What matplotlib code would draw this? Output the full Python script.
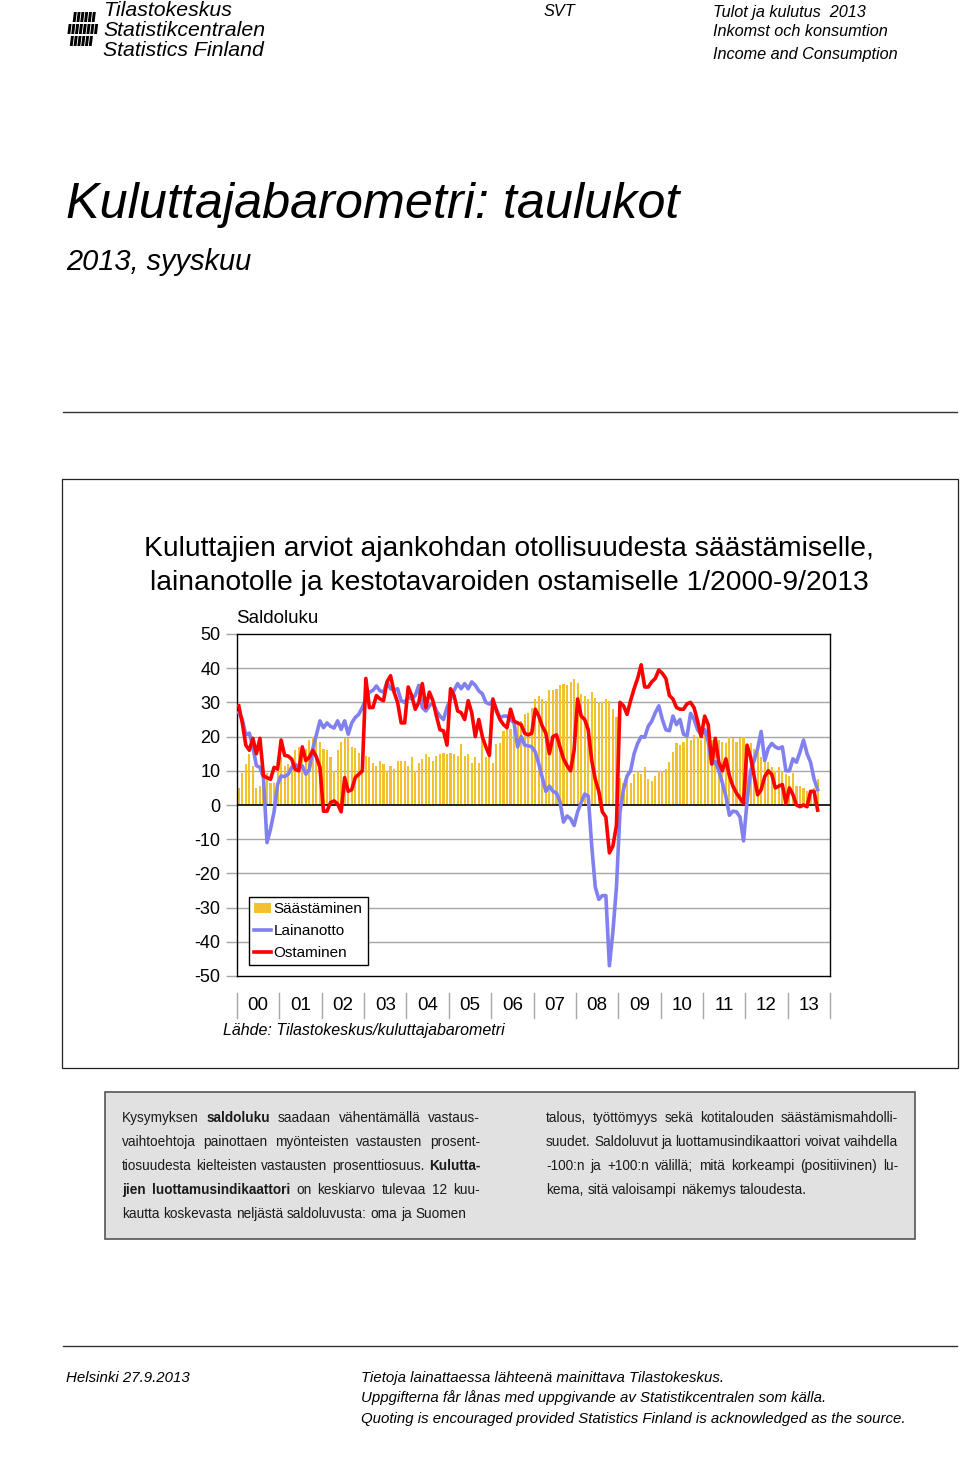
import matplotlib
matplotlib.use("Agg")
import matplotlib.pyplot as plt
from matplotlib import font_manager
from matplotlib.patches import Rectangle, Patch, Polygon
from matplotlib.lines import Line2D

# Saldoluvut 1/2000-9/2013, kuukausittain
ostaminen = [
    29, 24, 17.5, 16, 19.5, 15, 19.5, 8.5, 8, 7.5,
    11, 10.5, 19, 14.5, 14.3, 13.4, 10.4, 10, 17, 13,
    14, 16, 14, 11, -1.8, -1.8, 0.7, 1.2, 0.3, -2,
    8, 4, 4.5, 8, 9, 10, 37, 28.5, 28.5, 32,
    31, 30.5, 36, 37.8, 33, 30, 24, 24, 34.5, 32,
    28, 30, 35.5, 28.5, 33, 30.5, 26, 22, 21.7, 17.5,
    34, 32, 27.5, 27, 25, 30.5, 27, 20, 25, 20,
    17, 14.5, 31, 27.5, 25, 23.5, 22.6, 28, 24.5, 24,
    23.5, 21, 20.5, 21, 28, 26, 23, 21, 15, 20,
    20.5, 17, 13.5, 11.5, 10, 16, 31, 26, 25, 22,
    13, 7.5, 4, -2, -3.5, -14, -12, -6, 30, 29,
    26.5, 30.5, 34, 37, 41, 34.5, 34.5, 36, 37, 39.5,
    38.5, 37, 32, 31, 28.5, 28, 28, 29.6, 30, 28.4,
    24.5, 20, 26, 23.5, 12, 19.5, 12.5, 10, 13.5, 8.5,
    5.5, 3.5, 2, 0.5, 17.5, 14, 8.5, 3, 4.5, 8.3,
    10, 9, 5, 5.5, 6, 0.5, 5, 3, 0, -0.5,
    0, -0.5, 4, 4, -1.5,
]
lainanotto = [
    27, 25, 20.5, 21, 17, 11.5, 11, 8, -11, -7,
    -2, 6, 8.5, 8.3, 9, 11, 11.9, 11, 11.4, 9,
    10.4, 16.5, 20.5, 24.6, 22.6, 24, 23, 22.5, 24.6, 22.1,
    24.6, 20.7, 24, 25.6, 26.5, 28.5, 31, 33, 33.5, 34.8,
    33.4, 33, 35.8, 34, 33.5, 34, 30.5, 30, 31.5, 31,
    32, 35, 28.5, 27.5, 29, 30, 27.5, 26, 25, 28.5,
    31, 33.5, 35.5, 34, 35.5, 34, 36, 35, 33.4, 32.5,
    30, 29.5, 30.5, 28, 25.5, 26, 26, 25, 24, 17,
    20, 17.5, 17.3, 17, 15.5, 12, 8, 4, 5.5, 4,
    3.5, 1, -5, -3.2, -4, -6, -2, 0.7, 3.2, 2.6,
    -12, -24, -27.6, -26.5, -26.5, -47, -37, -24, -2, 4.6,
    8.5, 10, 15, 18, 20, 19.8, 23, 24.5, 27, 29,
    25, 22, 21.7, 26, 23.5, 25, 20.7, 20.2, 26.8, 25,
    22, 20.5, 22, 18.5, 12, 12.7, 10, 6.5, 2.6, -3,
    -1.8, -2, -3.5, -10.5, 1, 10, 13, 16.5, 21.5, 13,
    16.5, 18, 17, 16.5, 17, 10, 10, 13.5, 12.5, 15.5,
    19, 15, 12.5, 7.5, 4.5,
]
saastaminen = [
    5, 9.5, 12, 15, 11.5, 5, 5.5, 8, 9.5, 6.5,
    6.5, 11.5, 14, 11.5, 12, 13.5, 16, 17, 15.5, 16.5,
    19, 20, 20, 18.5, 16.5, 16, 14, 10, 16, 18.5,
    19.5, 19.5, 17, 16.8, 15.3, 12.9, 14.3, 13.9, 12.4, 11.4,
    12.9, 11.9, 10, 11.4, 10.4, 12.9, 12.9, 12.9, 11.4, 13.9,
    10, 12.4, 13.4, 14.8, 13.9, 12.9, 14.3, 14.8, 15.3, 14.8,
    15.3, 14.8, 14.3, 17.8, 14.3, 14.8, 12.4, 13.9, 12.4, 19.2,
    13.9, 14.3, 12.4, 17.8, 18.2, 21.7, 22.1, 22.1, 24.1, 24.6,
    24.6, 26.5, 27, 28.5, 31, 32, 31, 30.5, 33.5, 33.5,
    34, 35, 35.3, 35, 36, 36.8, 35.8, 32.4, 32, 31,
    32.9, 31.4, 30, 30, 31, 30.4, 28, 25.6, 8, 6.5,
    8.5, 6.5, 9, 10, 9, 11, 7.5, 7, 8.5, 10,
    10, 10.5, 12.5, 15.5, 18, 17.5, 18.5, 19.5, 19, 20.5,
    20, 19, 20.5, 20.5, 19, 18.5, 19, 18.5, 18, 20,
    19.5, 18.5, 19.5, 20, 17.5, 18, 16.5, 15.5, 14, 14.5,
    12.5, 11, 10, 11, 10, 9, 8.5, 9.5, 5.5, 5.5,
    5, 4, 4, 5, 7.5,
]
vuodet = ['00', '01', '02', '03', '04', '05', '06', '07',
          '08', '09', '10', '11', '12', '13']
sarjat = ['Säästäminen', 'Lainanotto', 'Ostaminen']

YELLOW = '#F2C12E'
BLUE = '#8080F0'
RED = '#FF0000'

installed = {f.name for f in font_manager.fontManager.ttflist}
HAVE_NARROW = 'Liberation Sans Narrow' in installed
NARROW = 'Liberation Sans Narrow' if HAVE_NARROW else 'Liberation Sans'
SANS = 'Liberation Sans'
plt.rcParams['font.family'] = [SANS, 'DejaVu Sans']
plt.rcParams['axes.unicode_minus'] = False
# narrow font missing -> shrink italic header texts to keep widths
K = 1.0 if HAVE_NARROW else 0.9

W, H = 960, 1475
fig = plt.figure(figsize=(W / 100, H / 100), dpi=100)
renderer = fig.canvas.get_renderer()


def fx(px):
    return px / W


def fy(py):
    return 1 - py / H


def ftext(x, y, s, **kw):
    kw.setdefault('va', 'center')
    return fig.text(fx(x), fy(y), s, **kw)


def hline(y, x0, x1, color='#333333', lw=1.0):
    fig.add_artist(Line2D([fx(x0), fx(x1)], [fy(y), fy(y)], transform=fig.transFigure,
                          color=color, lw=lw))


# --- header ---
# logo: slanted bars cut into three rows
rows = [(12, 22, range(1, 7)), (24, 34, range(0, 8)), (36, 46, range(1, 7))]
for top, bot, cols in rows:
    for c in cols:
        x0 = 66 + c * 3.8
        sl = (46 - top) * 0.12
        sb = (46 - bot) * 0.12
        pts = [(x0 + sb, bot), (x0 + sb + 2.9, bot), (x0 + sl + 2.9, top), (x0 + sl, top)]
        fig.add_artist(Polygon([(fx(a), fy(b)) for a, b in pts], closed=True,
                               transform=fig.transFigure, color='black', lw=0))

LOGO = 17 * (1.0 if HAVE_NARROW else 0.9)
ftext(103, 11, 'Tilastokeskus', family=NARROW, style='italic', fontsize=LOGO)
ftext(103, 31, 'Statistikcentralen', family=NARROW, style='italic', fontsize=LOGO)
ftext(103, 51, 'Statistics Finland', family=NARROW, style='italic', fontsize=LOGO)

ftext(544, 12, 'SVT', family=NARROW, style='italic', fontsize=13 * K)
ftext(713, 12, 'Tulot ja kulutus  2013', family=NARROW, style='italic', fontsize=13 * K)
ftext(713, 32, 'Inkomst och konsumtion', family=NARROW, style='italic', fontsize=13 * K)
ftext(713, 54, 'Income and Consumption', family=NARROW, style='italic', fontsize=13 * K)

ftext(66, 205, 'Kuluttajabarometri: taulukot', family=NARROW, style='italic',
      fontsize=39 * (1.0 if HAVE_NARROW else 0.93))
ftext(66, 262, '2013, syyskuu', family=NARROW, style='italic', fontsize=23 * (1.0 if HAVE_NARROW else 0.91))

hline(412, 63, 957)

# --- chart frame ---
fig.add_artist(Rectangle((fx(62), fy(1068)), fx(958) - fx(62), (1068 - 479) / H,
                         transform=fig.transFigure, fill=False, ec='#222222', lw=0.9))

ftext(509, 549, 'Kuluttajien arviot ajankohdan otollisuudesta säästämiselle,',
      ha='center', fontsize=20.3)
ftext(509, 583, 'lainanotolle ja kestotavaroiden ostamiselle 1/2000-9/2013',
      ha='center', fontsize=20.3)
ftext(236, 618, 'Saldoluku', fontsize=13.5)

ax = fig.add_axes([fx(237), fy(976), fx(830) - fx(237), (976 - 634) / H])
x = list(range(len(saastaminen)))
ax.bar(x, saastaminen, width=0.6, color=YELLOW, zorder=2)
ax.plot(x, lainanotto, color=BLUE, lw=2.6, zorder=3, solid_joinstyle='round')
ax.plot(x, ostaminen, color=RED, lw=2.6, zorder=4, solid_joinstyle='round')

for v in range(-40, 50, 10):
    if v != 0:
        ax.axhline(v, color='#A6A6A6', lw=1.0, zorder=1)
ax.axhline(0, color='black', lw=1.2, zorder=2.5)

ax.set_xlim(-0.5, 167.5)
ax.set_ylim(-50, 50)
ax.set_yticks(range(-50, 51, 10))
ax.set_xticks([])
ax.tick_params(axis='y', direction='out', length=8, width=1, color='#A6A6A6',
               labelsize=13, pad=4)
for s in ax.spines.values():
    s.set_color('black')
    s.set_linewidth(1.0)

# year labels with separators below the plot
xt = ax.get_xaxis_transform()
for k, lab in enumerate(vuodet):
    ax.text(k * 12 + 5.5, (976 - 1005) / 342, lab, transform=xt, ha='center', va='center',
            fontsize=13.5, clip_on=False)
for k in range(len(vuodet) + 1):
    ax.plot([k * 12 - 0.5] * 2, [(976 - 993) / 342, (976 - 1018) / 342], transform=xt,
            color='#A6A6A6', lw=1.0, clip_on=False)

handles = [Patch(facecolor=YELLOW, edgecolor='none'),
           Line2D([], [], color=BLUE, lw=2.6),
           Line2D([], [], color=RED, lw=2.6)]
leg = ax.legend(handles, sarjat, loc='upper left', bbox_to_anchor=(fx(249), fy(897)),
                bbox_transform=fig.transFigure, frameon=True, fancybox=False,
                edgecolor='black', framealpha=1, fontsize=11, handlelength=1.1,
                handleheight=0.55, handletextpad=0.15, labelspacing=0.5,
                borderpad=0.35, borderaxespad=0)
leg.get_frame().set_linewidth(1.0)

ftext(223, 1030, 'Lähde: Tilastokeskus/kuluttajabarometri', style='italic', fontsize=11.5)

# --- explanation box ---
fig.add_artist(Rectangle((fx(105), fy(1239)), fx(915) - fx(105), (1239 - 1092) / H,
                         transform=fig.transFigure, fc='#E1E1E1', ec='#555555', lw=1.2))

left_lines = [
    'Kysymyksen **saldoluku** saadaan vähentämällä vastaus-',
    'vaihtoehtoja painottaen myönteisten vastausten prosent-',
    'tiosuudesta kielteisten vastausten prosenttiosuus. **Kulutta-**',
    '**jien** **luottamusindikaattori** on keskiarvo tulevaa 12 kuu-',
    'kautta koskevasta neljästä saldoluvusta: oma ja Suomen',
]
right_lines = [
    'talous, työttömyys sekä kotitalouden säästämismahdolli-',
    'suudet. Saldoluvut ja luottamusindikaattori voivat vaihdella',
    '-100:n ja +100:n välillä; mitä korkeampi (positiivinen) lu-',
    'kema, sitä valoisampi näkemys taloudesta.',
]


def word_widths(line, size):
    out = []
    for word in line.split():
        bold = word.startswith('**')
        t = fig.text(0, 0, word.strip('*'), family=NARROW, fontsize=size,
                     weight='bold' if bold else 'normal')
        out.append(t.get_window_extent(renderer).width)
        t.remove()
    return out


# biggest body size where every justified line still keeps a small gap
body_size = 11.0
while body_size > 8:
    ok = True
    for lines, width in ((left_lines, 358), (right_lines, 352)):
        for line in lines[:-1]:
            ws = word_widths(line, body_size)
            if sum(ws) + 3.2 * (len(ws) - 1) > width:
                ok = False
    if ok:
        break
    body_size -= 0.1


def put_line(x0, x1, y, line, justify):
    arts, widths = [], []
    for word in line.split():
        bold = word.startswith('**')
        t = ftext(0, y, word.strip('*'), family=NARROW, fontsize=body_size,
                  weight='bold' if bold else 'normal', color='#1a1a1a')
        arts.append(t)
        widths.append(t.get_window_extent(renderer).width)
    if justify and len(arts) > 1:
        gap = (x1 - x0 - sum(widths)) / (len(arts) - 1)
    else:
        gap = body_size * 100 / 72 * 0.28
    pos = x0
    for t, w in zip(arts, widths):
        t.set_x(fx(pos))
        pos += w + gap


for i, line in enumerate(left_lines):
    put_line(122, 480, 1118 + 24 * i, line, i < len(left_lines) - 1)
for i, line in enumerate(right_lines):
    put_line(546, 898, 1118 + 24 * i, line, i < len(right_lines) - 1)

# --- footer ---
hline(1346, 63, 957)
FS = 12 if HAVE_NARROW else 10.8
ftext(66, 1378, 'Helsinki 27.9.2013', family=NARROW, style='italic', fontsize=FS)
ftext(361, 1378, 'Tietoja lainattaessa lähteenä mainittava Tilastokeskus.',
      family=NARROW, style='italic', fontsize=FS)
ftext(361, 1398, 'Uppgifterna får lånas med uppgivande av Statistikcentralen som källa.',
      family=NARROW, style='italic', fontsize=FS)
ftext(361, 1419, 'Quoting is encouraged provided Statistics Finland is acknowledged as the source.',
      family=NARROW, style='italic', fontsize=FS)

fig.savefig('out.png', dpi=100)
